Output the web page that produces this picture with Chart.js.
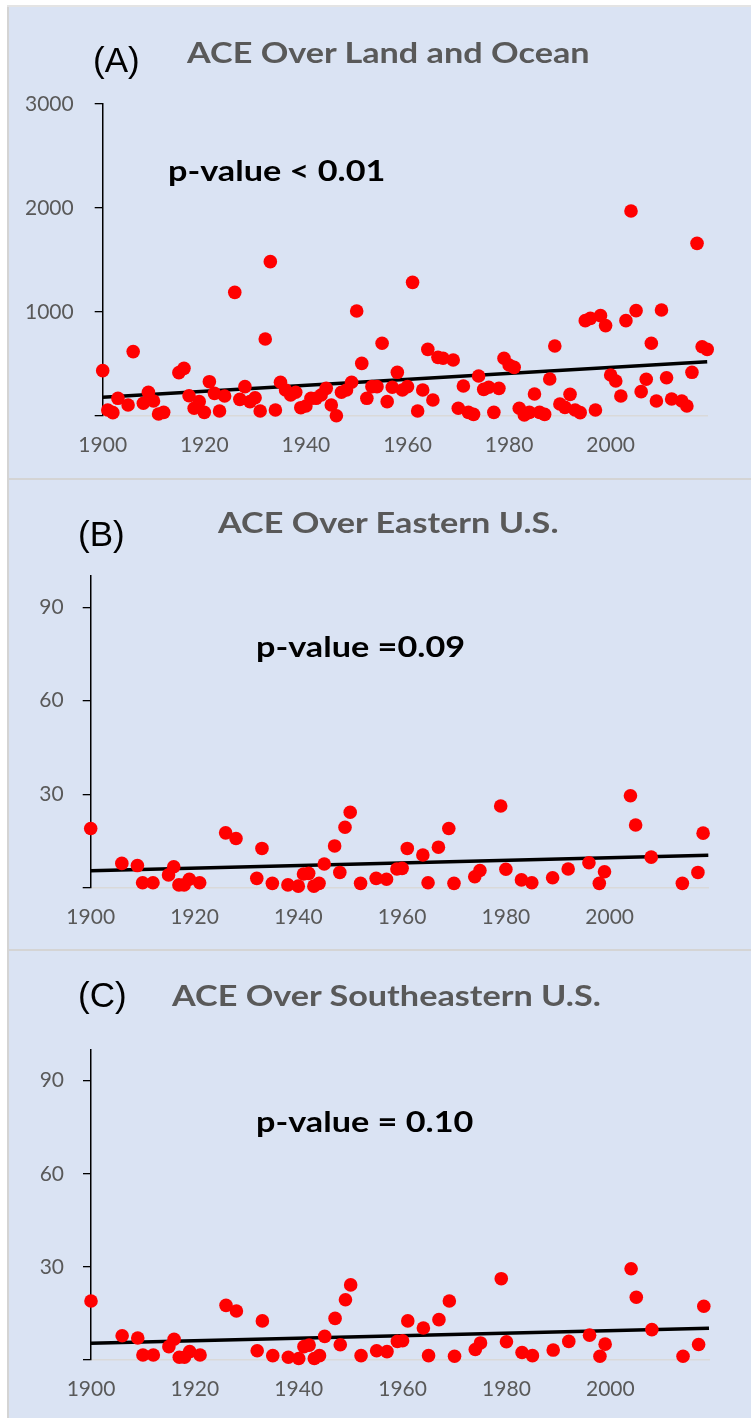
<!DOCTYPE html>
<html>
<head>
<meta charset="utf-8">
<script src="https://cdn.jsdelivr.net/npm/chart.js@4.4.0/dist/chart.umd.min.js"></script>
<style>
    body { margin: 0; width: 751px; height: 1418px; background: #fff; position: relative; overflow: hidden; }
    .panel { position: absolute; left: 9px; width: 742px; background: #dae3f3; }
    .panel canvas { position: absolute; left: 0; top: 0; }
    .sep { position: absolute; left: 7px; width: 744px; height: 2px; background: #d4d4d4; }
    .edge { position: absolute; left: 7px; top: 7px; width: 2px; bottom: 0; background: #d4d4d4; }
    .top-edge { position: absolute; left: 7px; top: 5px; right: 0; height: 2px; background: #e4e4e4; }
    .tag { position: absolute; font-family: "Liberation Sans", Arial, sans-serif; font-size: 35px; line-height: 35px; color: #000; white-space: nowrap; }
    .title { position: absolute; font-family: Lato, sans-serif; font-weight: bold; font-size: 29px; line-height: 29px; color: #595959; white-space: nowrap; transform-origin: left center; transform: scaleX(1.18); }
    .pval { position: absolute; font-family: Lato, sans-serif; font-weight: bold; font-size: 29px; line-height: 29px; color: #000; white-space: nowrap; transform-origin: left center; transform: scaleX(1.18); }
</style>
</head>
<body>

<div class="top-edge"></div>
<div class="edge"></div>

<div class="panel" id="panel-a" style="top:7px;height:471px;">
    <canvas id="chartA" width="742" height="471"></canvas>
    <div class="tag" style="left:84px;top:35px;">(A)</div>
    <div class="title" style="left:178px;top:30px;">ACE Over Land and Ocean</div>
    <div class="pval" style="left:159px;top:148px;">p-value &lt; 0.01</div>
</div>
<div class="sep" style="top:478px;"></div>

<div class="panel" id="panel-b" style="top:480px;height:469px;">
    <canvas id="chartB" width="742" height="469"></canvas>
    <div class="tag" style="left:69px;top:36px;">(B)</div>
    <div class="title" style="left:209px;top:27px;">ACE Over Eastern U.S.</div>
    <div class="pval" style="left:247px;top:151px;">p-value =0.09</div>
</div>
<div class="sep" style="top:949px;"></div>

<div class="panel" id="panel-c" style="top:951px;height:467px;">
    <canvas id="chartC" width="742" height="467"></canvas>
    <div class="tag" style="left:69px;top:26px;">(C)</div>
    <div class="title" style="left:163px;top:29px;">ACE Over Southeastern U.S.</div>
    <div class="pval" style="left:247px;top:155px;">p-value = 0.10</div>
</div>

<script>
// (A) ACE over land and ocean
const landYears = [1900, 1901, 1902, 1903, 1905, 1906, 1908, 1909, 1910, 1911, 1912, 1915, 1916, 1917, 1918, 1919,
    1920, 1921, 1922, 1923, 1924, 1926, 1927, 1928, 1929, 1930, 1931, 1932, 1933, 1934, 1935, 1936, 1937, 1938, 1939,
    1940, 1941, 1942, 1943, 1944, 1945, 1946, 1947, 1948, 1949, 1950, 1951, 1952, 1953, 1954, 1955, 1956, 1957, 1958,
    1959, 1960, 1961, 1962, 1963, 1964, 1965, 1966, 1967, 1969, 1970, 1971, 1972, 1973, 1974, 1975, 1976, 1977, 1978,
    1979, 1980, 1981, 1982, 1983, 1984, 1985, 1986, 1987, 1988, 1989, 1990, 1991, 1992, 1993, 1994, 1995, 1996, 1997,
    1998, 1999, 2000, 2001, 2002, 2003, 2004, 2005, 2006, 2007, 2008, 2009, 2010, 2011, 2012, 2014, 2015, 2016, 2017,
    2018, 2019];
const landAce = [436, 58, 32, 170, 106, 619, 122, 228, 144, 19, 35, 417, 458, 195, 74, 138,
    35, 330, 218, 48, 192, 1189, 160, 282, 138, 176, 48, 740, 1484, 58, 324, 250, 202, 228, 80,
    96, 170, 170, 202, 266, 106, 3, 228, 250, 324, 1010, 506, 170, 282, 282, 699, 138, 276, 420,
    250, 282, 1285, 48, 250, 641, 154, 564, 555, 538, 74, 288, 35, 16, 385, 256, 276, 35, 266,
    555, 490, 468, 74, 10, 35, 212, 35, 16, 356, 673, 115, 83, 208, 58, 32, 917, 939, 58,
    965, 869, 394, 337, 192, 917, 1971, 1013, 234, 353, 699, 144, 1019, 368, 163, 144, 96, 420, 1660,
    666, 641];
const landTrend = [180, 522];

// (B) ACE over eastern U.S.
const eastYears = [1900, 1906, 1909, 1910, 1912, 1915, 1916, 1917, 1918, 1919, 1921, 1926, 1928, 1932, 1933, 1935,
    1938, 1940, 1941, 1942, 1943, 1944, 1945, 1947, 1948, 1949, 1950, 1952, 1955, 1957, 1959, 1960, 1961, 1964,
    1965, 1967, 1969, 1970, 1974, 1975, 1979, 1980, 1983, 1985, 1989, 1992, 1996, 1998, 1999, 2004, 2005, 2008,
    2014, 2017, 2018];
const eastAce = [19.0, 7.8, 7.1, 1.6, 1.6, 4.1, 6.7, 0.9, 0.9, 2.7, 1.6, 17.6, 15.8, 3.0, 12.6, 1.4,
    0.9, 0.5, 4.4, 4.6, 0.5, 1.4, 7.6, 13.4, 4.9, 19.4, 24.2, 1.4, 3.0, 2.7, 6.0, 6.2, 12.6, 10.5,
    1.6, 13.0, 19.0, 1.4, 3.5, 5.5, 26.2, 5.9, 2.5, 1.6, 3.2, 6.0, 8.0, 1.4, 5.1, 29.5, 20.1, 9.8,
    1.4, 4.9, 17.5];
const eastTrend = [5.4, 10.4];

// (C) ACE over southeastern U.S.
const southeastYears = [1900, 1906, 1909, 1910, 1912, 1915, 1916, 1917, 1918, 1919, 1921, 1926, 1928, 1932, 1933, 1935,
    1938, 1940, 1941, 1942, 1943, 1944, 1945, 1947, 1948, 1949, 1950, 1952, 1955, 1957, 1959, 1960, 1961, 1964,
    1965, 1967, 1969, 1970, 1974, 1975, 1979, 1980, 1983, 1985, 1989, 1992, 1996, 1998, 1999, 2004, 2005, 2008,
    2014, 2017, 2018];
const southeastAce = [19.0, 7.8, 7.1, 1.6, 1.6, 4.3, 6.7, 0.9, 0.9, 2.7, 1.6, 17.6, 15.8, 3.0, 12.6, 1.4,
    0.9, 0.5, 4.3, 4.8, 0.5, 1.4, 7.6, 13.4, 4.9, 19.4, 24.2, 1.4, 3.0, 2.7, 6.0, 6.2, 12.6, 10.3,
    1.4, 13.0, 19.0, 1.2, 3.4, 5.5, 26.2, 5.9, 2.4, 1.4, 3.2, 6.0, 8.0, 1.2, 5.1, 29.4, 20.2, 9.8,
    1.2, 5.0, 17.3];
const southeastTrend = [5.4, 10.2];

const trendYears = [1900, 2019];
const xTicks = [1900, 1920, 1940, 1960, 1980, 2000];
const landTicks = [0, 1000, 2000, 3000];
const regionTicks = [0, 30, 60, 90];

const TICK_COLOR = "#595959";

function makeChart(id, cfg) {
    const points = cfg.years.map((yr, i) => ({ x: yr, y: cfg.values[i] }));
    const trend = trendYears.map((yr, i) => ({ x: yr, y: cfg.trend[i] }));

    return new Chart(document.getElementById(id), {
        type: "scatter",
        data: {
            datasets: [
                {
                    data: points,
                    backgroundColor: "#ff0000",
                    borderWidth: 0,
                    pointRadius: 6.8,
                    pointHoverRadius: 6.8,
                    clip: false,
                    order: 0
                },
                {
                    type: "line",
                    data: trend,
                    borderColor: "#000",
                    borderWidth: 3.5,
                    pointRadius: 0,
                    fill: false,
                    clip: false,
                    order: 1
                }
            ]
        },
        options: {
            responsive: false,
            animation: false,
            events: [],
            layout: { padding: { top: cfg.top, right: cfg.right, left: 0, bottom: 0 } },
            plugins: { legend: { display: false }, tooltip: { enabled: false } },
            scales: {
                x: {
                    type: "linear",
                    min: 1900,
                    max: 2019,
                    afterBuildTicks: s => { s.ticks = xTicks.map(v => ({ value: v })); },
                    afterFit: s => { s.height = cfg.bottom; },
                    grid: { display: true, drawOnChartArea: false, drawTicks: false },
                    border: { color: "#d9d9d9", width: 1.5 },
                    ticks: {
                        color: TICK_COLOR,
                        font: { family: "Lato", size: 21 },
                        padding: 17,
                        maxRotation: 0,
                        callback: v => String(v)
                    }
                },
                y: {
                    min: 0,
                    max: cfg.yMax,
                    afterBuildTicks: s => { s.ticks = cfg.yTicks.map(v => ({ value: v })); },
                    afterFit: s => { s.width = cfg.left; },
                    grid: { drawOnChartArea: false, drawTicks: true, tickLength: 8, color: "#000", lineWidth: 1.3 },
                    border: { color: "#000", width: 1.5 },
                    ticks: {
                        color: TICK_COLOR,
                        font: { family: "Lato", size: 21 },
                        padding: cfg.yPad,
                        callback: v => (v === 0 ? "" : String(v))
                    }
                }
            }
        }
    });
}

makeChart("chartA", {
    years: landYears, values: landAce, trend: landTrend,
    yMax: 3000, yTicks: landTicks,
    top: 97, right: 43.8, left: 93.7, bottom: 62, yPad: 21
});

makeChart("chartB", {
    years: eastYears, values: eastAce, trend: eastTrend,
    yMax: 100, yTicks: regionTicks,
    top: 96, right: 42.7, left: 81.7, bottom: 61.3, yPad: 19
});

makeChart("chartC", {
    years: southeastYears, values: southeastAce, trend: southeastTrend,
    yMax: 100, yTicks: regionTicks,
    top: 98.6, right: 42, left: 82, bottom: 58, yPad: 19
});
</script>
</body>
</html>
